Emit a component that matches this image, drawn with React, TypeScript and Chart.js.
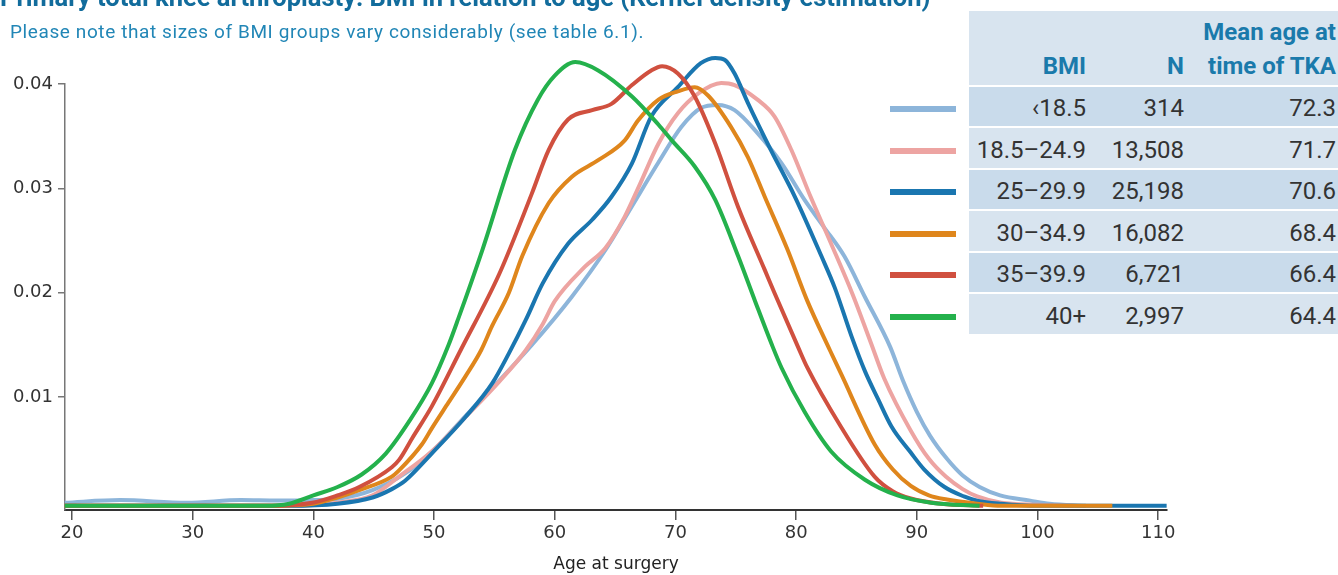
import React, { useEffect, useRef } from "react";
import { Chart, registerables } from "chart.js";

Chart.register(...registerables);

const TITLE = "Primary total knee arthroplasty: BMI in relation to age (Kernel density estimation)";
const SUBTITLE = "Please note that sizes of BMI groups vary considerably (see table 6.1).";
const X_LABEL = "Age at surgery";
const X_TICKS = [20, 30, 40, 50, 60, 70, 80, 90, 100, 110];
const Y_TICKS = [0.01, 0.02, 0.03, 0.04];

const HEAD_BMI = "BMI";
const HEAD_N = "N";
const HEAD_AGE = ["Mean age at", "time of TKA"];
const BMI_GROUPS = ["‹18.5", "18.5–24.9", "25–29.9", "30–34.9", "35–39.9", "40+"];
const N_VALUES = ["314", "13,508", "25,198", "16,082", "6,721", "2,997"];
const MEAN_AGES = ["72.3", "71.7", "70.6", "68.4", "66.4", "64.4"];
const COLORS = ["#8db5da", "#eda4a2", "#1a76b0", "#df861c", "#d0503f", "#24b14c"];
const DRAW_ORDER = [5, 4, 3, 2, 1, 0];

// <18.5
const AGES_LT185 = [19.4, 24, 29.5, 34, 37, 40, 42.2, 44.9, 47.6, 50, 52.6, 55.4, 58.1, 61.4, 64.2, 66.4, 68.6, 70.5, 72.1, 73.5, 74.9, 76.8, 78.8, 80.7, 82.3, 84, 85.7, 87.8, 88.85, 90, 91.1, 92.5, 93.8, 95.2, 96.9, 99.4, 101, 104];
const DENS_LT185 = [-0.0001, 0.00015, -0.0001, 0.00015, 0.0001, 0.00015, 0.0003, 0.0011, 0.0027, 0.005, 0.0082, 0.0116, 0.015, 0.0196, 0.0241, 0.0283, 0.0325, 0.0359, 0.0377, 0.038, 0.0375, 0.0353, 0.0324, 0.0289, 0.0263, 0.0235, 0.0196, 0.0148, 0.0116, 0.0086, 0.0063, 0.0041, 0.0025, 0.0014, 0.0006, 0.0001, -0.0002, -0.0004];

// 18.5–24.9
const AGES_185_249 = [19.4, 38, 42, 44.9, 47.1, 49.8, 52.6, 55.4, 57.6, 59, 60, 62.5, 64.2, 65.8, 66.9, 68.6, 70.2, 71.9, 73.8, 74.9, 76.8, 78.2, 79.6, 81.2, 82.9, 84.7, 86.2, 87.3, 89.5, 91, 92.4, 93.8, 95, 97, 100, 103];
const DENS_185_249 = [-0.0004, -0.0004, -0.0001, 0.0006, 0.0024, 0.0048, 0.0081, 0.0115, 0.0145, 0.017, 0.0192, 0.0225, 0.0243, 0.0273, 0.03, 0.0343, 0.0372, 0.0391, 0.0401, 0.0399, 0.0385, 0.0369, 0.0337, 0.0292, 0.0247, 0.0198, 0.0152, 0.0118, 0.0068, 0.0041, 0.0024, 0.0012, 0.0005, -0.0001, -0.0003, -0.0004];

// 25–29.9
const AGES_25_299 = [19.4, 38, 42, 44.9, 46.5, 47.6, 49.8, 52.6, 54.8, 56.2, 57.6, 59, 61.1, 63.1, 64.7, 66.4, 68, 70.2, 72.1, 73.3, 74.1, 74.9, 76, 77.9, 79.9, 82.1, 83.2, 84.6, 85.7, 86.8, 87.9, 89.5, 90.6, 92.3, 93.9, 95, 97, 100, 110.7];
const DENS_25_299 = [-0.0004, -0.0004, -0.0002, 0.0004, 0.0012, 0.002, 0.0046, 0.0081, 0.0113, 0.0142, 0.0174, 0.0209, 0.0247, 0.027, 0.0292, 0.0324, 0.0369, 0.0397, 0.042, 0.0425, 0.0423, 0.041, 0.0382, 0.0337, 0.0292, 0.0235, 0.0205, 0.0158, 0.0125, 0.0098, 0.0072, 0.0047, 0.0031, 0.0014, 0.0005, 0.0001, -0.0002, -0.0004, -0.0004];

// 30–34.9
const AGES_30_349 = [19.4, 36, 40, 42, 43.8, 46.5, 47.1, 49, 49.8, 51.2, 52.6, 53.9, 54.8, 56.2, 57.3, 59.5, 61.4, 63.6, 65.8, 66.9, 68.6, 70.2, 71.6, 72.7, 74.6, 76, 77.4, 79.3, 80.9, 82.8, 83.7, 86.5, 88, 89.5, 91, 92.5, 95, 97, 106.2];
const DENS_30_349 = [-0.0004, -0.0004, -0.0002, 0.0004, 0.0011, 0.0024, 0.003, 0.0055, 0.007, 0.0095, 0.012, 0.0145, 0.0168, 0.02, 0.0235, 0.0286, 0.0311, 0.0327, 0.0346, 0.0365, 0.0385, 0.0393, 0.0397, 0.0389, 0.0359, 0.033, 0.0292, 0.0241, 0.0193, 0.0145, 0.0123, 0.0055, 0.0031, 0.0015, 0.0006, 0.0002, -0.0002, -0.0004, -0.0004];

// 35–39.9
const AGES_35_399 = [19.4, 36, 39.9, 42, 43.8, 46.5, 47.1, 48.2, 49.8, 52.2, 55.4, 58.1, 59.5, 61.1, 63.1, 64.7, 66.4, 68, 68.9, 70.2, 71.6, 73.3, 75.2, 77.4, 78.2, 80.2, 80.9, 83.7, 86.5, 88, 89.5, 92, 95.5];
const DENS_35_399 = [-0.0004, -0.0004, -0.0001, 0.0006, 0.0014, 0.0033, 0.004, 0.0061, 0.0091, 0.0145, 0.0218, 0.0295, 0.0337, 0.0366, 0.0375, 0.0381, 0.0399, 0.0413, 0.0417, 0.041, 0.0388, 0.0343, 0.0282, 0.0222, 0.02, 0.0147, 0.0129, 0.0072, 0.0024, 0.001, 0.0003, -0.0002, -0.0004];

// 40+
const AGES_40P = [19.4, 30, 36, 38, 40, 42, 44, 46, 48, 49.8, 51.2, 52, 54, 56.7, 58.6, 60, 61.7, 63.6, 66.4, 68.6, 69.7, 71.6, 73.3, 75.2, 76.6, 78, 78.8, 80.7, 82.9, 85.7, 88.4, 91.2, 95.2];
const DENS_40P = [-0.0004, -0.0004, -0.0004, -0.0002, 0.0006, 0.0014, 0.0026, 0.0046, 0.0078, 0.0113, 0.015, 0.0175, 0.0241, 0.0337, 0.0385, 0.0408, 0.0421, 0.0413, 0.0388, 0.0361, 0.0346, 0.0321, 0.0289, 0.0235, 0.0192, 0.015, 0.0128, 0.0086, 0.0048, 0.0021, 0.0006, -0.0001, -0.0004];

const SERIES_AGES = [AGES_LT185, AGES_185_249, AGES_25_299, AGES_30_349, AGES_35_399, AGES_40P];
const SERIES_DENS = [DENS_LT185, DENS_185_249, DENS_25_299, DENS_30_349, DENS_35_399, DENS_40P];

const ROW_DARK = "#c9dbeb";
const ROW_LIGHT = "#d8e4ef";
const HEAD_COLOR = "#1a7aab";

export default function App() {
  const canvasRef = useRef<HTMLCanvasElement | null>(null);

  useEffect(() => {
    const canvas = canvasRef.current;
    if (!canvas) return;
    const datasets = BMI_GROUPS.map((g, i) => ({
      label: g,
      data: SERIES_AGES[i].map((a, j) => ({ x: a, y: SERIES_DENS[i][j] })),
      borderColor: COLORS[i],
      backgroundColor: COLORS[i],
      borderWidth: 4,
      pointRadius: 0,
      pointHoverRadius: 0,
      fill: false,
      cubicInterpolationMode: "monotone" as const,
      clip: false as any,
      order: DRAW_ORDER[i],
    }));
    const chart = new Chart(canvas, {
      type: "line",
      data: { datasets },
      options: {
        responsive: false,
        animation: false,
        events: [],
        layout: { padding: { top: 84, right: 171, left: 0, bottom: 0 } },
        plugins: {
          legend: { display: false },
          tooltip: { enabled: false },
          title: { display: false },
        },
        scales: {
          x: {
            type: "linear",
            min: 19.42,
            max: 110.73,
            afterBuildTicks: (s: any) => {
              s.ticks = X_TICKS.map((v) => ({ value: v }));
            },
            afterFit: (s: any) => {
              s.height = 65;
            },
            grid: { drawOnChartArea: false, tickLength: 10, color: "#555", lineWidth: 1.5 },
            border: { color: "#333", width: 2 },
            ticks: {
              font: { family: "DejaVu Sans", size: 18 },
              color: "#333",
              padding: 3,
              maxRotation: 0,
              autoSkip: false,
              callback: (v: any) => String(v),
            },
            title: {
              display: true,
              text: X_LABEL,
              font: { family: "DejaVu Sans", size: 17 },
              color: "#222",
              padding: { top: 0, bottom: 0 },
            },
          },
          y: {
            type: "linear",
            min: -0.0008,
            max: 0.04,
            afterBuildTicks: (s: any) => {
              s.ticks = Y_TICKS.map((v) => ({ value: v }));
            },
            afterFit: (s: any) => {
              s.width = 65;
            },
            grid: { drawOnChartArea: false, tickLength: 7, color: "#777", lineWidth: 1.5 },
            border: { color: "#777", width: 1.5 },
            ticks: {
              font: { family: "DejaVu Sans", size: 18 },
              color: "#333",
              padding: 5,
              callback: (v: any) => Number(v).toFixed(2),
            },
          },
        },
      },
    });
    return () => chart.destroy();
  }, []);

  const rowTop = (i: number) => 86.5 + i * 41.5;

  return (
    <div
      style={{
        position: "absolute",
        left: 0,
        top: 0,
        width: 1338,
        height: 575,
        overflow: "hidden",
        background: "#fff",
        fontFamily: "Roboto, 'Open Sans', sans-serif",
      }}
    >
      <canvas
        ref={canvasRef}
        width={1338}
        height={575}
        style={{ position: "absolute", left: 0, top: 0, width: 1338, height: 575 }}
      />
      <div
        style={{
          position: "absolute",
          left: 0,
          top: -14.8,
          fontSize: 25.5,
          lineHeight: "25.5px",
          fontWeight: 700,
          color: "#126c9c",
          whiteSpace: "nowrap",
        }}
      >
        {TITLE}
      </div>
      <div
        style={{
          position: "absolute",
          left: 10,
          top: 21.5,
          fontSize: 19,
          lineHeight: "19px",
          letterSpacing: "0.6px",
          color: "#2186b6",
          whiteSpace: "nowrap",
        }}
      >
        {SUBTITLE}
      </div>

      {/* table header */}
      <div style={{ position: "absolute", left: 969, top: 10.5, width: 369, height: 74, background: ROW_LIGHT }} />
      <div
        style={{
          position: "absolute",
          left: 969,
          width: 117,
          top: 53.8,
          fontSize: 24,
          lineHeight: "24px",
          fontWeight: 700,
          color: HEAD_COLOR,
          textAlign: "right",
        }}
      >
        {HEAD_BMI}
      </div>
      <div
        style={{
          position: "absolute",
          left: 1098,
          width: 86,
          top: 53.8,
          fontSize: 24,
          lineHeight: "24px",
          fontWeight: 700,
          color: HEAD_COLOR,
          textAlign: "right",
        }}
      >
        {HEAD_N}
      </div>
      <div
        style={{
          position: "absolute",
          left: 1184,
          width: 152,
          top: 14.8,
          fontSize: 24,
          lineHeight: "34px",
          fontWeight: 700,
          color: HEAD_COLOR,
          textAlign: "right",
          whiteSpace: "nowrap",
        }}
      >
        <div>{HEAD_AGE[0]}</div>
        <div>{HEAD_AGE[1]}</div>
      </div>

      {BMI_GROUPS.map((g, i) => (
        <React.Fragment key={g}>
          <div
            style={{
              position: "absolute",
              left: 890,
              top: rowTop(i) + 19.5,
              width: 66,
              height: 6,
              background: COLORS[i],
            }}
          />
          <div
            style={{
              position: "absolute",
              left: 969,
              top: rowTop(i),
              width: 369,
              height: 39.5,
              background: i % 2 === 0 ? ROW_DARK : ROW_LIGHT,
            }}
          />
          <div
            style={{
              position: "absolute",
              left: 969,
              width: 117,
              top: rowTop(i) + 9.8,
              fontSize: 24,
              lineHeight: "24px",
              color: "#333",
              textAlign: "right",
              whiteSpace: "nowrap",
            }}
          >
            {g}
          </div>
          <div
            style={{
              position: "absolute",
              left: 1090,
              width: 94,
              top: rowTop(i) + 9.8,
              fontSize: 24,
              lineHeight: "24px",
              color: "#333",
              textAlign: "right",
              whiteSpace: "nowrap",
            }}
          >
            {N_VALUES[i]}
          </div>
          <div
            style={{
              position: "absolute",
              left: 1200,
              width: 136,
              top: rowTop(i) + 9.8,
              fontSize: 24,
              lineHeight: "24px",
              color: "#333",
              textAlign: "right",
              whiteSpace: "nowrap",
            }}
          >
            {MEAN_AGES[i]}
          </div>
        </React.Fragment>
      ))}
    </div>
  );
}
